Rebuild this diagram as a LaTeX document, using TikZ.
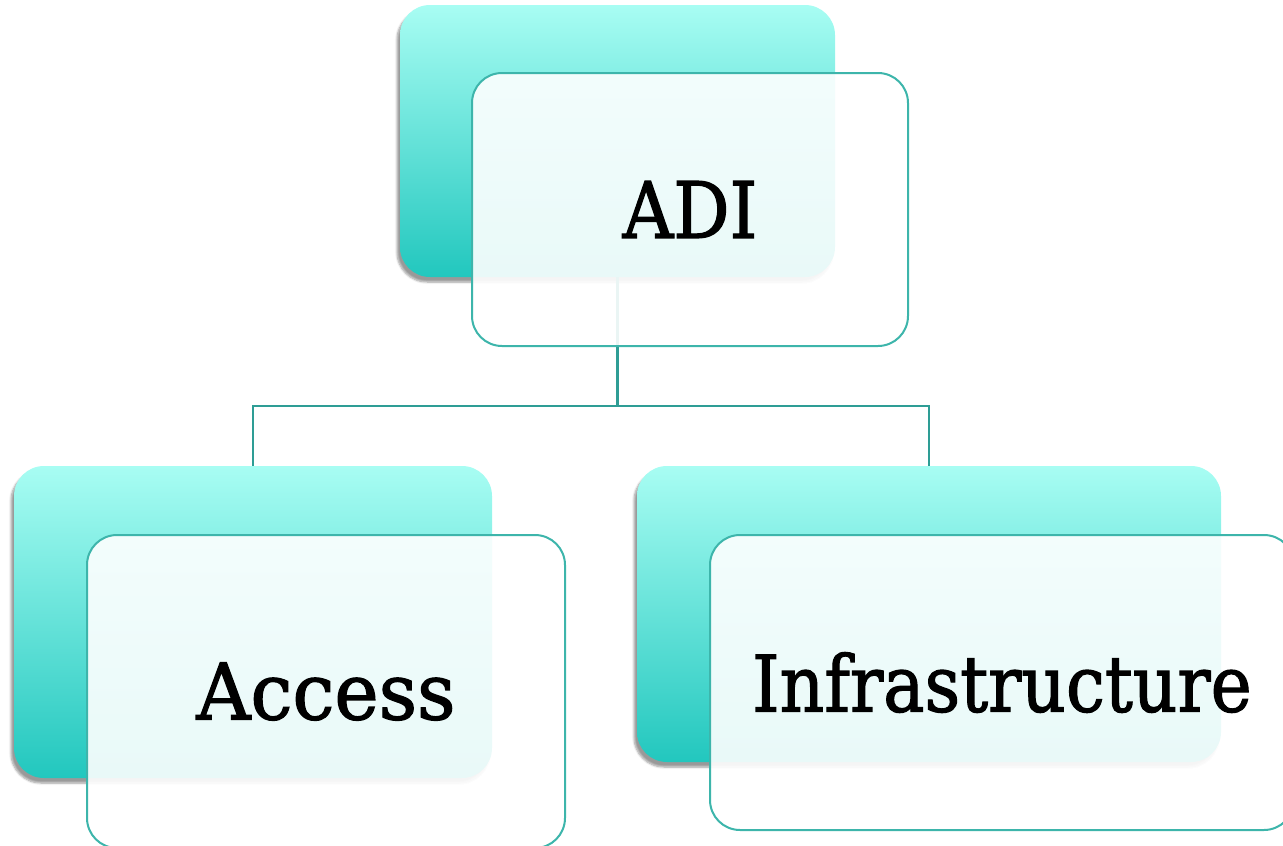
\documentclass[tikz,border=0pt]{standalone}
\usepackage{fontspec}
\setmainfont{DejaVu Serif}
\newfontfamily\cardfont[FakeBold=1.6]{DejaVu Serif}
\usetikzlibrary{shadows.blur}
\definecolor{tealtop}{HTML}{A8FDF3}
\definecolor{tealbot}{HTML}{22C7BE}
\definecolor{edgeteal}{HTML}{3DB5AB}
\definecolor{linkteal}{HTML}{2E9D95}
\tikzset{
  backcard/.style={rounded corners=30pt, top color=tealtop, bottom color=tealbot,
    draw=none, inner sep=0pt,
    blur shadow={shadow xshift=-3pt, shadow yshift=-5pt, shadow blur steps=6}},
  frontcard/.style={rounded corners=30pt, draw=edgeteal, line width=2pt,
    fill=white, fill opacity=0.9, text opacity=1, inner sep=0pt,
    font=\cardfont\fontsize{78}{80}\selectfont},
  link/.style={draw=linkteal, line width=2.2pt}
}
\begin{document}
\begin{tikzpicture}[x=1pt, y=-1pt]
  \useasboundingbox (0,0) rectangle (1283,846);

  % coloured cards at the back
  \node[backcard, minimum width=435pt, minimum height=272pt] (adiB) at (617.5,141) {};
  \node[backcard, minimum width=478pt, minimum height=312pt] (accB) at (253,622) {};
  \node[backcard, minimum width=584pt, minimum height=296pt] (infB) at (929,614) {};

  % tree connectors
  \coordinate (bus) at (0,406);
  \draw[link] (adiB.south) -- (adiB.south |- bus) -| (accB.north);
  \draw[link] (adiB.south |- bus) -| (infB.north);

  % translucent label cards in front
  \node[frontcard, minimum width=436pt, minimum height=273pt] (adiF) at (690,209.5) {\scalebox{0.9}[1]{ADI}};
  \node[frontcard, minimum width=478pt, minimum height=313pt] (accF) at (326,691.5) {\scalebox{0.96}[1]{Access}};
  \node[frontcard, minimum width=584pt, minimum height=295pt] (infF) at (1002,682.5) {\scalebox{0.89}[1]{Infrastructure}};
\end{tikzpicture}
\end{document}
